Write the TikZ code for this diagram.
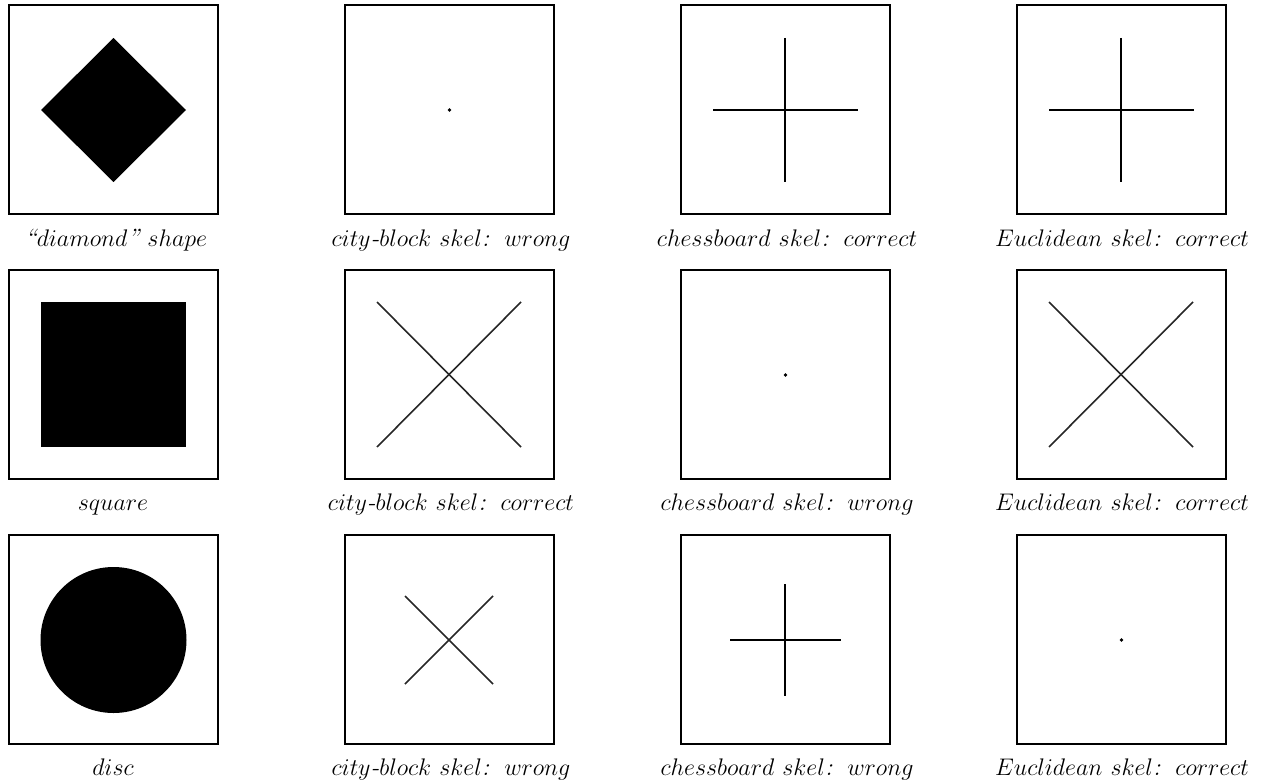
\documentclass[tikz,border=0pt]{standalone}
\begin{document}
\begin{tikzpicture}[x=0.5pt,y=-0.5pt,
  frame/.style={draw=black,line width=1.25pt},
  captext/.style={anchor=base,inner sep=0pt,font=\fontsize{12.5}{14}\selectfont},
  plusline/.style={draw=black,line width=1pt},
  xline/.style={draw=black!85,line width=0.8pt},
  dotfill/.style={fill=black}]
\useasboundingbox (0,0) rectangle (1267,781);
% frames
\foreach \c/\x in {1/9,2/345,3/681,4/1017}{
  \foreach \r/\y in {1/5,2/270,3/535}{
    \draw[frame] (\x,\y) rectangle ++(209,209);
  }
}
% row 1
\fill (113.5,38) -- (186,110) -- (113.5,182) -- (41,110) -- cycle;
\fill[dotfill] (449.5,110) circle (1.8);
\coordinate (c3t) at (785,38); \coordinate (c3b) at (785,182);
\coordinate (c3l) at (713,110); \coordinate (c3r) at (858,110);
\draw[plusline] (c3t) -- (c3b); \draw[plusline] (c3l) -- (c3r);
\coordinate (c4t) at (1121,38); \coordinate (c4b) at (1121,182);
\coordinate (c4l) at (1049,110); \coordinate (c4r) at (1194,110);
\draw[plusline] (c4t) -- (c4b); \draw[plusline] (c4l) -- (c4r);
% row 2
\fill (40.5,302) rectangle (186,447);
\coordinate (x2a) at (377,302); \coordinate (x2b) at (521,447);
\coordinate (x2c) at (521,302); \coordinate (x2d) at (377,447);
\draw[xline] (x2a) -- (x2b); \draw[xline] (x2c) -- (x2d);
\fill[dotfill] (785.5,375) circle (1.8);
\coordinate (x4a) at (1049,302); \coordinate (x4b) at (1193,447);
\coordinate (x4c) at (1193,302); \coordinate (x4d) at (1049,447);
\draw[xline] (x4a) -- (x4b); \draw[xline] (x4c) -- (x4d);
% row 3
\fill (113.5,640) circle (73);
\coordinate (y2a) at (405,596); \coordinate (y2b) at (493,684);
\coordinate (y2c) at (493,596); \coordinate (y2d) at (405,684);
\draw[xline] (y2a) -- (y2b); \draw[xline] (y2c) -- (y2d);
\coordinate (p3t) at (785,584); \coordinate (p3b) at (785,696);
\coordinate (p3l) at (730,640); \coordinate (p3r) at (841,640);
\draw[plusline] (p3t) -- (p3b); \draw[plusline] (p3l) -- (p3r);
\fill[dotfill] (1121.5,640) circle (1.8);
% captions
\newcommand{\kcol}{\mbox{\itshape :}\;}
\node[captext] (t11) at (116,246) {\mbox{\itshape ``}$diamond$\mbox{\itshape ''}$\ shape$};
\node[captext] (t12) at (451,246) {$city\mbox{\itshape -}block\ skel\kcol\ wrong$};
\node[captext] (t13) at (787,246) {$chessboard\ skel\kcol\ correct$};
\node[captext] (t14) at (1122,246) {$Euclidean\ skel\kcol\ correct$};
\node[captext] (t21) at (113,510) {$square$};
\node[captext] (t22) at (451,510) {$city\mbox{\itshape -}block\ skel\kcol\ correct$};
\node[captext] (t23) at (787,510) {$chessboard\ skel\kcol\ wrong$};
\node[captext] (t24) at (1122,510) {$Euclidean\ skel\kcol\ correct$};
\node[captext] (t31) at (113,775) {$disc$};
\node[captext] (t32) at (451,775) {$city\mbox{\itshape -}block\ skel\kcol\ wrong$};
\node[captext] (t33) at (787,775) {$chessboard\ skel\kcol\ wrong$};
\node[captext] (t34) at (1122,775) {$Euclidean\ skel\kcol\ correct$};
\end{tikzpicture}
\end{document}
